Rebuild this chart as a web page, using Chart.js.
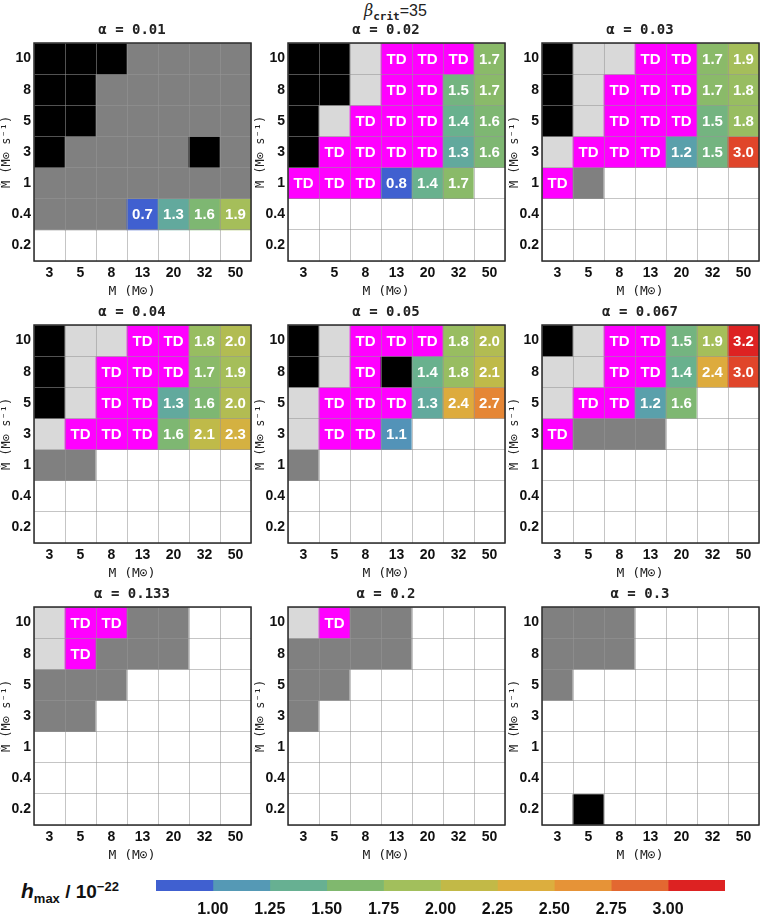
<!DOCTYPE html>
<html>
<head>
<meta charset="utf-8">
<script src="https://cdn.jsdelivr.net/npm/chart.js@4.4.0/dist/chart.umd.min.js"></script>
<style>
  body { margin: 0; background: #fff; width: 761px; height: 914px; position: relative; overflow: hidden;
         font-family: "Liberation Sans", Arial, sans-serif; }
  canvas { position: absolute; }
  #beta { position: absolute; left: 364px; top: 1px; font-size: 16px; color: #222; }
  #beta i { font-family: "DejaVu Serif", serif; }
  #beta sub { font-family: "DejaVu Sans Mono", monospace; font-weight: bold; font-size: 11px; }
  #hlabel { position: absolute; left: 21px; top: 879px; font-size: 19px; font-weight: bold; color: #111; }
  #hlabel i { font-size: 21px; }
  #hlabel sub { font-size: 13px; }
  #hlabel sup { font-size: 13px; }
</style>
</head>
<body>
<div id="beta"><i>β</i><sub>crit</sub>=35</div>
<div id="hlabel"><i>h</i><sub>max</sub> / 10<sup>−22</sup></div>

<script>
// axes
const massLabels = ['3', '5', '8', '13', '20', '32', '50'];
const mdotLabels = ['10', '8', '5', '3', '1', '0.4', '0.2']; // top row first
const alphaLabels = ['0.01', '0.02', '0.03', '0.04', '0.05', '0.067', '0.133', '0.2', '0.3'];

// colorbar bins and colours
const cbEdges = [0.75, 1.00, 1.25, 1.50, 1.75, 2.00, 2.25, 2.50, 2.75, 3.00, 3.25];
const cbColors = ['#4060d0', '#5599b5', '#67b092', '#80b86e', '#a2bf5c',
                  '#c2b947', '#dcae3e', '#e69337', '#e36831', '#dd2222'];

// B = black, L = light grey, G = dark grey, T = TD, W = empty, number = h_max
const cells001 = [
  ['B', 'B', 'B', 'G', 'G', 'G', 'G'],
  ['B', 'B', 'G', 'G', 'G', 'G', 'G'],
  ['B', 'B', 'G', 'G', 'G', 'G', 'G'],
  ['B', 'G', 'G', 'G', 'G', 'B', 'G'],
  ['G', 'G', 'G', 'G', 'G', 'G', 'G'],
  ['G', 'G', 'G', 0.7, 1.3, 1.6, 1.9],
  ['W', 'W', 'W', 'W', 'W', 'W', 'W']
];
const cells002 = [
  ['B', 'B', 'L', 'T', 'T', 'T', 1.7],
  ['B', 'B', 'L', 'T', 'T', 1.5, 1.7],
  ['B', 'L', 'T', 'T', 'T', 1.4, 1.6],
  ['B', 'T', 'T', 'T', 'T', 1.3, 1.6],
  ['T', 'T', 'T', 0.8, 1.4, 1.7, 'W'],
  ['W', 'W', 'W', 'W', 'W', 'W', 'W'],
  ['W', 'W', 'W', 'W', 'W', 'W', 'W']
];
const cells003 = [
  ['B', 'L', 'L', 'T', 'T', 1.7, 1.9],
  ['B', 'L', 'T', 'T', 'T', 1.7, 1.8],
  ['B', 'L', 'T', 'T', 'T', 1.5, 1.8],
  ['L', 'T', 'T', 'T', 1.2, 1.5, 3.0],
  ['T', 'G', 'W', 'W', 'W', 'W', 'W'],
  ['W', 'W', 'W', 'W', 'W', 'W', 'W'],
  ['W', 'W', 'W', 'W', 'W', 'W', 'W']
];
const cells004 = [
  ['B', 'L', 'L', 'T', 'T', 1.8, 2.0],
  ['B', 'L', 'T', 'T', 'T', 1.7, 1.9],
  ['B', 'L', 'T', 'T', 1.3, 1.6, 2.0],
  ['L', 'T', 'T', 'T', 1.6, 2.1, 2.3],
  ['G', 'G', 'W', 'W', 'W', 'W', 'W'],
  ['W', 'W', 'W', 'W', 'W', 'W', 'W'],
  ['W', 'W', 'W', 'W', 'W', 'W', 'W']
];
const cells005 = [
  ['B', 'L', 'T', 'T', 'T', 1.8, 2.0],
  ['B', 'L', 'T', 'B', 1.4, 1.8, 2.1],
  ['L', 'T', 'T', 'T', 1.3, 2.4, 2.7],
  ['L', 'T', 'T', 1.1, 'W', 'W', 'W'],
  ['G', 'W', 'W', 'W', 'W', 'W', 'W'],
  ['W', 'W', 'W', 'W', 'W', 'W', 'W'],
  ['W', 'W', 'W', 'W', 'W', 'W', 'W']
];
const cells0067 = [
  ['B', 'L', 'T', 'T', 1.5, 1.9, 3.2],
  ['L', 'L', 'T', 'T', 1.4, 2.4, 3.0],
  ['L', 'T', 'T', 1.2, 1.6, 'W', 'W'],
  ['T', 'G', 'G', 'G', 'W', 'W', 'W'],
  ['W', 'W', 'W', 'W', 'W', 'W', 'W'],
  ['W', 'W', 'W', 'W', 'W', 'W', 'W'],
  ['W', 'W', 'W', 'W', 'W', 'W', 'W']
];
const cells0133 = [
  ['L', 'T', 'T', 'G', 'G', 'W', 'W'],
  ['L', 'T', 'G', 'G', 'G', 'W', 'W'],
  ['G', 'G', 'G', 'W', 'W', 'W', 'W'],
  ['G', 'G', 'W', 'W', 'W', 'W', 'W'],
  ['W', 'W', 'W', 'W', 'W', 'W', 'W'],
  ['W', 'W', 'W', 'W', 'W', 'W', 'W'],
  ['W', 'W', 'W', 'W', 'W', 'W', 'W']
];
const cells02 = [
  ['L', 'T', 'G', 'G', 'W', 'W', 'W'],
  ['G', 'G', 'G', 'G', 'W', 'W', 'W'],
  ['G', 'G', 'W', 'W', 'W', 'W', 'W'],
  ['G', 'W', 'W', 'W', 'W', 'W', 'W'],
  ['W', 'W', 'W', 'W', 'W', 'W', 'W'],
  ['W', 'W', 'W', 'W', 'W', 'W', 'W'],
  ['W', 'W', 'W', 'W', 'W', 'W', 'W']
];
const cells03 = [
  ['G', 'G', 'G', 'W', 'W', 'W', 'W'],
  ['G', 'G', 'G', 'W', 'W', 'W', 'W'],
  ['G', 'W', 'W', 'W', 'W', 'W', 'W'],
  ['W', 'W', 'W', 'W', 'W', 'W', 'W'],
  ['W', 'W', 'W', 'W', 'W', 'W', 'W'],
  ['W', 'W', 'W', 'W', 'W', 'W', 'W'],
  ['W', 'B', 'W', 'W', 'W', 'W', 'W']
];

const panels = [cells001, cells002, cells003, cells004, cells005, cells0067, cells0133, cells02, cells03];

const stateColors = { B: '#000000', L: '#d9d9d9', G: '#808080', T: '#ff00ff', W: '#ffffff' };

function hexToRgb(h) {
    return [parseInt(h.slice(1, 3), 16), parseInt(h.slice(3, 5), 16), parseInt(h.slice(5, 7), 16)];
}

// continuous colour, interpolated between the bin centres of the colorbar
function valueColor(v) {
    const centres = cbColors.map((c, i) => (cbEdges[i] + cbEdges[i + 1]) / 2);
    if (v <= centres[0]) return cbColors[0];
    if (v >= centres[centres.length - 1]) return cbColors[cbColors.length - 1];
    let i = 0;
    while (v > centres[i + 1]) i++;
    const t = (v - centres[i]) / (centres[i + 1] - centres[i]);
    const a = hexToRgb(cbColors[i]), b = hexToRgb(cbColors[i + 1]);
    const c = a.map((x, k) => Math.round(x + (b[k] - x) * t));
    return 'rgb(' + c.join(',') + ')';
}

function cellColor(c) {
    return typeof c === 'number' ? valueColor(c) : stateColors[c];
}

function cellText(c) {
    if (c === 'T') return 'TD';
    if (typeof c === 'number') return c.toFixed(1);
    return '';
}

// cell labels, frame, panel title and x title
const cellLabelPlugin = {
    id: 'cellLabels',
    afterDraw(chart) {
        const ctx = chart.ctx;
        const opts = chart.config.options.plugins.cellLabels;
        ctx.save();
        ctx.fillStyle = '#fff';
        ctx.font = 'bold 15px "Liberation Sans", Arial, sans-serif';
        ctx.textAlign = 'center';
        ctx.textBaseline = 'middle';
        opts.cells.forEach((row, r) => {
            const meta = chart.getDatasetMeta(r);
            row.forEach((c, i) => {
                const txt = cellText(c);
                if (!txt) return;
                const el = meta.data[i];
                ctx.fillText(txt, el.x, (el.y + el.base) / 2 + 1);
            });
        });
        const a = chart.chartArea;
        ctx.strokeStyle = '#2a2a2a';
        ctx.lineWidth = 1.5;
        ctx.strokeRect(a.left, a.top, a.right - a.left, a.bottom - a.top);

        const cx = chart.width / 2 + 5;
        ctx.fillStyle = '#222';
        ctx.font = 'bold 14px "DejaVu Sans Mono", monospace';
        ctx.fillText(opts.title, cx, 12);
        ctx.font = '13px "DejaVu Sans Mono", monospace';
        ctx.fillText('M (M⊙)', cx, 274);
        ctx.restore();
    }
};

const gridColor = 'rgba(150,150,150,0.55)';
const tickFont = { family: '"Liberation Sans", Arial, sans-serif', size: 14, weight: 'bold' };

panels.forEach((grid, p) => {
    const col = p % 3, rowIdx = Math.floor(p / 3);
    const canvas = document.createElement('canvas');
    canvas.width = 254;
    canvas.height = 282;
    canvas.style.left = (254 * col) + 'px';
    canvas.style.top = (18 + 282 * rowIdx) + 'px';
    document.body.appendChild(canvas);

    const datasets = grid.map((row, r) => ({
        data: row.map(() => [6 - r, 7 - r]),
        backgroundColor: row.map(cellColor),
        borderWidth: 0,
        barPercentage: 1,
        categoryPercentage: 1,
        grouped: false
    }));

    new Chart(canvas.getContext('2d'), {
        type: 'bar',
        data: { labels: massLabels, datasets: datasets },
        options: {
            responsive: false,
            animation: false,
            layout: { padding: { left: 0, right: 3, top: 25, bottom: 0 } },
            plugins: {
                legend: { display: false },
                tooltip: { enabled: false },
                title: { display: false },
                cellLabels: { cells: grid, title: 'α = ' + alphaLabels[p] }
            },
            scales: {
                x: {
                    z: 1,
                    offset: true,
                    grid: { color: gridColor, offset: true, drawTicks: false, z: 1 },
                    border: { display: false },
                    ticks: { color: '#111', font: tickFont, padding: 4 },
                    afterFit(scale) { scale.height = 39; }
                },
                y: {
                    z: 1,
                    min: 0,
                    max: 7,
                    grid: { color: gridColor, drawTicks: false, z: 1 },
                    border: { display: false },
                    ticks: {
                        stepSize: 1,
                        color: '#111',
                        font: tickFont,
                        padding: 3,
                        labelOffset: -15.6,
                        callback: v => (v < 7 ? mdotLabels[6 - v] : '')
                    },
                    title: {
                        display: true, text: 'Ṁ (M⊙ s⁻¹)', color: '#222',
                        font: { family: '"DejaVu Sans Mono", monospace', size: 12 },
                        padding: { top: 0, bottom: 0 }
                    },
                    afterFit(scale) { scale.width = 34; }
                }
            }
        },
        plugins: [cellLabelPlugin]
    });
});

// colorbar
const cbCanvas = document.createElement('canvas');
cbCanvas.width = 761;
cbCanvas.height = 44;
cbCanvas.style.left = '0px';
cbCanvas.style.top = '870px';
document.body.appendChild(cbCanvas);

new Chart(cbCanvas.getContext('2d'), {
    type: 'bar',
    data: {
        labels: ['h'],
        datasets: cbColors.map((c, i) => ({
            data: [[cbEdges[i], cbEdges[i + 1]]],
            backgroundColor: c,
            borderWidth: 0,
            barPercentage: 1,
            categoryPercentage: 1,
            grouped: false
        }))
    },
    options: {
        indexAxis: 'y',
        responsive: false,
        animation: false,
        layout: { padding: { left: 156, right: 36, top: 10, bottom: 0 } },
        plugins: { legend: { display: false }, tooltip: { enabled: false } },
        scales: {
            x: {
                min: cbEdges[0],
                max: cbEdges[cbEdges.length - 1],
                grid: { display: false },
                border: { display: false },
                ticks: {
                    stepSize: 0.25,
                    color: '#111',
                    font: { family: '"Liberation Sans", Arial, sans-serif', size: 16, weight: 'bold' },
                    padding: 1,
                    callback: v => (v > cbEdges[0] && v < cbEdges[cbEdges.length - 1] ? v.toFixed(2) : '')
                },
                afterFit(scale) { scale.height = 23; }
            },
            y: { display: false }
        }
    }
});
</script>
</body>
</html>
